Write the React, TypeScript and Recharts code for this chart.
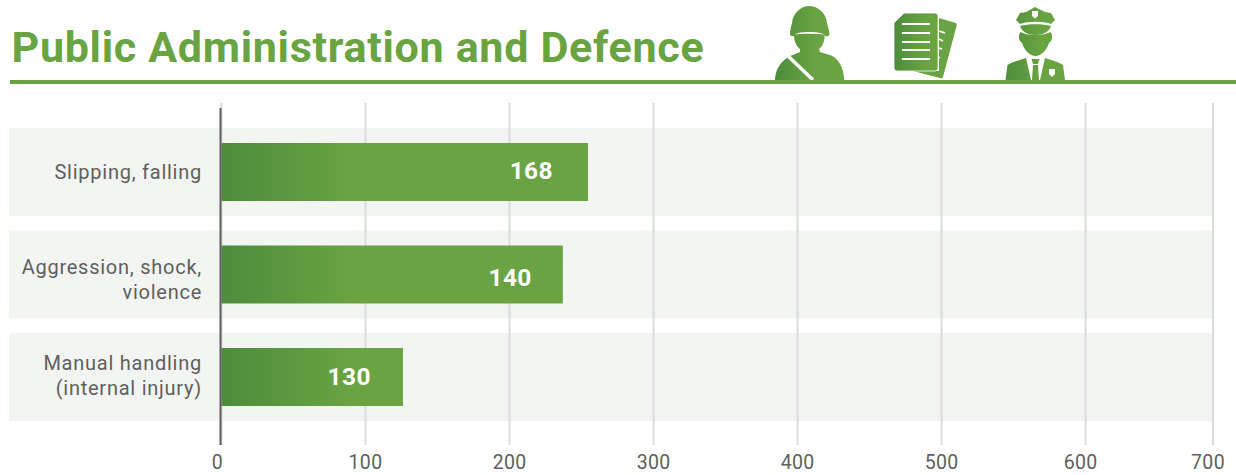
import React from 'react';
import { BarChart, Bar, XAxis, YAxis, CartesianGrid, ReferenceLine, LabelList } from 'recharts';

// category labels, one entry per text line
const categories = ['Slipping, falling', 'Aggression, shock,\nviolence', 'Manual handling\n(internal injury)'];
// the printed numbers do not match the drawn lengths in the source picture, so keep both
const barLengths = [254.5, 237, 126];
const printedValues = [168, 140, 130];
// last gridline sits short of where 700 would fall on the scale
const tickValues = [0, 100, 200, 300, 400, 500, 600, 688.5];
const tickLabels = ['0', '100', '200', '300', '400', '500', '600', '700'];

// small text offsets, the source labels are not placed evenly
const tickNudges = [-4, 0, 0, 0, 0, 0, -5, -5];
const categoryNudges = [0, 5, -2];
const valueNudgesX = [-1, 3, 2];
const valueNudgesY = [-1, 3, 0];

const GREEN = '#69a342';
const DARK_GREEN = '#4d8c3b';
const TEXT = '#5f5f5f';
const FONT = 'Roboto, sans-serif';
const AXIS_MAX = 688.5;

const data = categories.map((name, i) => ({
  name,
  length: barLengths[i],
  printed: printedValues[i],
  band: AXIS_MAX,
}));

const CategoryTick = (props: any) => {
  const lines = String(props.payload.value).split('\n');
  const nudge = categoryNudges[categories.indexOf(props.payload.value)];
  const startY = props.y + 7 + nudge - (lines.length - 1) * 12.5;
  return (
    <text textAnchor="end" fontFamily={FONT} fontSize={20} fill={TEXT} letterSpacing={0.75}>
      {lines.map((line, i) => (
        <tspan key={line} x={202} y={startY + i * 25}>{line}</tspan>
      ))}
    </text>
  );
};

const ValueTick = (props: any) => {
  const i = tickValues.indexOf(props.payload.value);
  return (
    <text x={props.x + tickNudges[i]} y={469} textAnchor="middle" fontFamily={FONT} fontSize={19.5} fill={TEXT} letterSpacing={0.3}>
      {tickLabels[i]}
    </text>
  );
};

const BandShape = (props: any) => (
  <rect x={9} y={props.y} width={props.x + props.width - 9} height={props.height} fill="#f3f5f2" />
);

const ValueLabel = (props: any) => {
  const i = printedValues.indexOf(props.value);
  return (
    <text
      x={props.x + props.width - 34 + valueNudgesX[i]}
      y={props.y + props.height / 2 + 8 + valueNudgesY[i]}
      textAnchor="end"
      fontFamily={FONT}
      fontWeight={700}
      fontSize={24.5}
      letterSpacing={0.4}
      fill="#ffffff"
    >
      {props.value}
    </text>
  );
};

const Icons = () => (
  <svg width={1236} height={475} style={{ position: 'absolute', left: 0, top: 0, pointerEvents: 'none' }}>
    <defs>
      <linearGradient id="iconSoldier" gradientUnits="userSpaceOnUse" x1="775" x2="815" y1="0" y2="0">
        <stop offset="0" stopColor={DARK_GREEN} />
        <stop offset="1" stopColor={GREEN} />
      </linearGradient>
      <linearGradient id="iconDocs" gradientUnits="userSpaceOnUse" x1="894" x2="925" y1="0" y2="0">
        <stop offset="0" stopColor={DARK_GREEN} />
        <stop offset="1" stopColor={GREEN} />
      </linearGradient>
      <linearGradient id="iconPolice" gradientUnits="userSpaceOnUse" x1="1005" x2="1040" y1="0" y2="0">
        <stop offset="0" stopColor={DARK_GREEN} />
        <stop offset="1" stopColor={GREEN} />
      </linearGradient>
    </defs>

    {/* soldier */}
    <path
      fill="url(#iconSoldier)"
      d="M790 34 C790 30 791 27 792 23 C793 12 802 6 809 6 C817 6 826 12 827 23 C828 27 829 30 829.5 34 C829.5 36 827 36.5 825 36 C824 33 818 32 809 32 C800 32 795 33 794 36 C792 36.5 790 36 790 34Z"
    />
    <path
      fill="url(#iconSoldier)"
      d="M794 34.5 C800 33.5 818 33.5 824.5 34.5 C825 42 822 47 819 49 L820 52 C826 54 834 55 838 61 C842 66 844 73 844 80 L775 80 C775 72 779 63 787 58 C791 55 796 54 800 52 L800 49 C796 46 794 41 794 34.5Z"
    />
    <line x1={788} y1={56} x2={813} y2={80} stroke="#ffffff" strokeWidth={3.5} />

    {/* documents */}
    <path fill="url(#iconDocs)" d="M939 18 L956 23 Q957 24 956.5 26 L943 77 Q942 79 940 78 L913 71 L939 71Z" />
    <g stroke="#ffffff" strokeWidth={1.5}>
      <line x1={939} y1={31} x2={945} y2={33} />
      <line x1={939} y1={39} x2={943} y2={41} />
      <line x1={939} y1={48} x2={942} y2={49} />
      <line x1={939} y1={57} x2={940} y2={58} />
    </g>
    <path
      fill="url(#iconDocs)"
      stroke="#ffffff"
      strokeWidth={0.8}
      d="M904 13 L935 13 Q938 13 938 16 L938 68 Q938 71 935 71 L897 71 Q894 71 894 68 L894 23Z"
    />
    <g stroke="#ffffff" strokeWidth={2}>
      <line x1={902} y1={24} x2={930} y2={24} />
      <line x1={902} y1={33} x2={930} y2={33} />
      <line x1={902} y1={42} x2={930} y2={42} />
      <line x1={902} y1={50} x2={930} y2={50} />
      <line x1={902} y1={59} x2={930} y2={59} />
    </g>

    {/* police officer */}
    <path
      fill="url(#iconPolice)"
      d="M1035 7 L1045 12 L1051 13 L1055 20 L1051 24 C1044 21 1027 21 1020 24 L1016 20 L1020 13 L1026 12Z"
    />
    <path fill="url(#iconPolice)" d="M1020 26 C1028 23.5 1043 23.5 1051 26 C1049 32 1043 35 1035.5 35 C1028 35 1022 32 1020 26Z" />
    <path
      fill="url(#iconPolice)"
      d="M1021 32 C1026 36 1045 36 1050 32 C1052 33 1053 38 1051 41 L1049 43 C1047 50 1041 56 1035.5 56 C1030 56 1024 50 1022 43 L1020 41 C1018 38 1019 33 1021 32Z"
    />
    <path
      fill="url(#iconPolice)"
      d="M1026 58 L1031 80 L1005.5 80 L1007.5 65 C1012 62 1020 60 1026 58Z M1045 58 C1051 60 1059 62 1063 65 L1065 80 L1040 80Z M1031.5 59 L1039.5 59 L1038 64 L1033 64Z M1033 65 L1038 65 L1039 80 L1032 80Z"
    />
    <path fill="#ffffff" d="M1049 69 L1055 69 L1055 74 L1052 77 L1049 74Z" />
    <path fill="#ffffff" d="M1032 11 L1038 11 L1038 16 L1035 18.5 L1032 16Z" />

    <rect x={10} y={80} width={1226} height={4} fill={GREEN} />
  </svg>
);

export default function App() {
  return (
    <div style={{ position: 'absolute', left: 0, top: 0, width: 1236, height: 475, background: '#ffffff', overflow: 'hidden' }}>
      <BarChart
        width={1236}
        height={475}
        data={data}
        layout="vertical"
        margin={{ top: 103, right: 23, bottom: 0, left: 0.5 }}
        barSize={58}
      >
        <defs>
          <linearGradient id="barFill" gradientUnits="userSpaceOnUse" x1="221" x2="350" y1="0" y2="0">
            <stop offset="0" stopColor={DARK_GREEN} />
            <stop offset="1" stopColor={GREEN} />
          </linearGradient>
        </defs>
        <XAxis
          type="number"
          domain={[0, AXIS_MAX]}
          ticks={tickValues}
          interval={0}
          height={30}
          axisLine={false}
          tickLine={false}
          tick={<ValueTick />}
        />
        <XAxis xAxisId="band" type="number" domain={[0, AXIS_MAX]} hide />
        <YAxis
          type="category"
          dataKey="name"
          width={221}
          axisLine={false}
          tickLine={false}
          interval={0}
          padding={{ top: 18, bottom: 16.5 }}
          tick={<CategoryTick />}
        />
        <YAxis yAxisId="band" type="category" dataKey="name" hide padding={{ top: 18, bottom: 16.5 }} />
        <Bar
          dataKey="band"
          xAxisId="band"
          yAxisId="band"
          barSize={88}
          shape={<BandShape />}
          zIndex={-200}
          isAnimationActive={false}
        />
        <CartesianGrid horizontal={false} stroke="#dbdbdb" strokeWidth={2} zIndex={-100} />
        <Bar dataKey="length" fill="url(#barFill)" isAnimationActive={false}>
          <LabelList dataKey="printed" content={<ValueLabel />} />
        </Bar>
        <ReferenceLine
          x={0}
          shape={(p: any) => <line x1={p.x1 - 1} x2={p.x2 - 1} y1={108} y2={445} stroke={TEXT} strokeWidth={2} />}
        />
      </BarChart>
      <div
        style={{
          position: 'absolute',
          left: 11.5,
          top: 21,
          fontFamily: FONT,
          fontWeight: 700,
          fontSize: 43,
          lineHeight: '52px',
          letterSpacing: 0.7,
          color: GREEN,
          whiteSpace: 'nowrap',
        }}
      >
        Public Administration and Defence
      </div>
      <Icons />
    </div>
  );
}
